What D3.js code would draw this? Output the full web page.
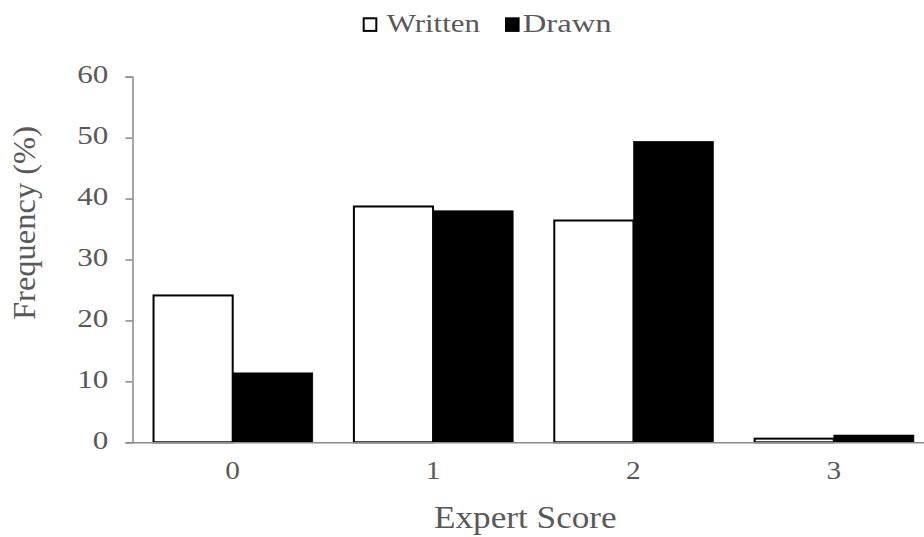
<!DOCTYPE html>
<html><head><meta charset="utf-8">
<script src="https://cdn.jsdelivr.net/npm/d3@7"></script>
<style>body{margin:0;background:#fff}svg{display:block}</style>
</head><body>
<script>
const categories = ["0","1","2","3"];
const seriesNames = ["Written","Drawn"];
const written = [24.1, 38.7, 36.4, 0.6];
const drawn = [11.4, 38.0, 49.4, 1.2];
const yTicks = [0,10,20,30,40,50,60];

const W = 924, H = 537;
const FONT = "Liberation Serif";
const svg = d3.select("body").append("svg").attr("width",W).attr("height",H)
  .attr("font-family",FONT);
const textColor = "#595959", axisColor = "#898989";

const x0 = d3.scaleBand().domain(categories).range([132.5, 934]).paddingInner(0.2).paddingOuter(0.1);
const x1 = d3.scaleBand().domain(seriesNames).range([0, x0.bandwidth()]);
const y = d3.scaleLinear().domain([0,60]).range([442.3, 76.7]);

const data = categories.map((c,i)=>({cat:c, vals:[{s:"Written",v:written[i]},{s:"Drawn",v:drawn[i]}]}));

const g = svg.append("g");
g.selectAll("g.cat").data(data).join("g").attr("class","cat")
 .attr("transform", d=>`translate(${x0(d.cat)},0)`)
 .selectAll("rect").data(d=>d.vals).join("rect")
 .attr("x", d=>x1(d.s) + (d.s==="Written"?1:0))
 .attr("y", d=>y(d.v))
 .attr("width", d=>x1.bandwidth() - (d.s==="Written"?1:0))
 .attr("height", d=>y(0)-y(d.v))
 .attr("fill", d=>d.s==="Written"?"#fff":"#000")
 .attr("stroke", "#000")
 .attr("stroke-width", d=>d.s==="Written"?2:0.5);

// y axis
const yAxis = svg.append("g").attr("transform","translate(132.5,0)")
 .call(d3.axisLeft(y).tickValues(yTicks).tickSize(7).tickPadding(18));
yAxis.attr("font-family",FONT);
yAxis.select(".domain").attr("stroke",axisColor).attr("stroke-width",1.5);
yAxis.selectAll(".tick line").attr("stroke",axisColor).attr("stroke-width",1.5);
yAxis.selectAll(".tick text").attr("fill",textColor).attr("font-size",25.5)
 .attr("x",0).attr("dy","0.24em")
 .attr("transform",`translate(${108.3-132.5},0) scale(1.22,1)`);

// x axis
const xAxis = svg.append("g").attr("transform","translate(0,442.3)")
 .call(d3.axisBottom(x0).tickSize(0).tickPadding(20).tickSizeOuter(0));
xAxis.attr("font-family",FONT);
xAxis.select(".domain").attr("stroke",axisColor).attr("stroke-width",1.5);
xAxis.selectAll(".tick text").attr("fill",textColor).attr("font-size",25.5)
 .attr("y",0).attr("dy",0)
 .attr("transform",`translate(0,${479-442.3}) scale(1.15,1)`);

// axis titles
svg.append("text").attr("x",434).attr("y",528.3)
 .attr("textLength",182.7).attr("lengthAdjust","spacingAndGlyphs")
 .attr("fill",textColor).attr("font-size",31).text("Expert Score");
svg.append("text").attr("transform","translate(35,223) rotate(-90)").attr("text-anchor","middle")
 .attr("fill",textColor).attr("font-size",32.5).text("Frequency (%)");

// legend
const legendBox = [362.7, 505];
const legendText = [{x:386.7,w:93.3},{x:522.7,w:89}];
seriesNames.forEach((s,i)=>{
  svg.append("rect").attr("x",legendBox[i]+1).attr("y",18.3).attr("width",12.6).attr("height",12.6)
   .attr("fill", s==="Written"?"#fff":"#000").attr("stroke","#000").attr("stroke-width",2);
  svg.append("text").attr("x",legendText[i].x).attr("y",31.7)
   .attr("textLength",legendText[i].w).attr("lengthAdjust","spacingAndGlyphs")
   .attr("fill",textColor).attr("font-size",25.5).text(s);
});
</script>
</body></html>
